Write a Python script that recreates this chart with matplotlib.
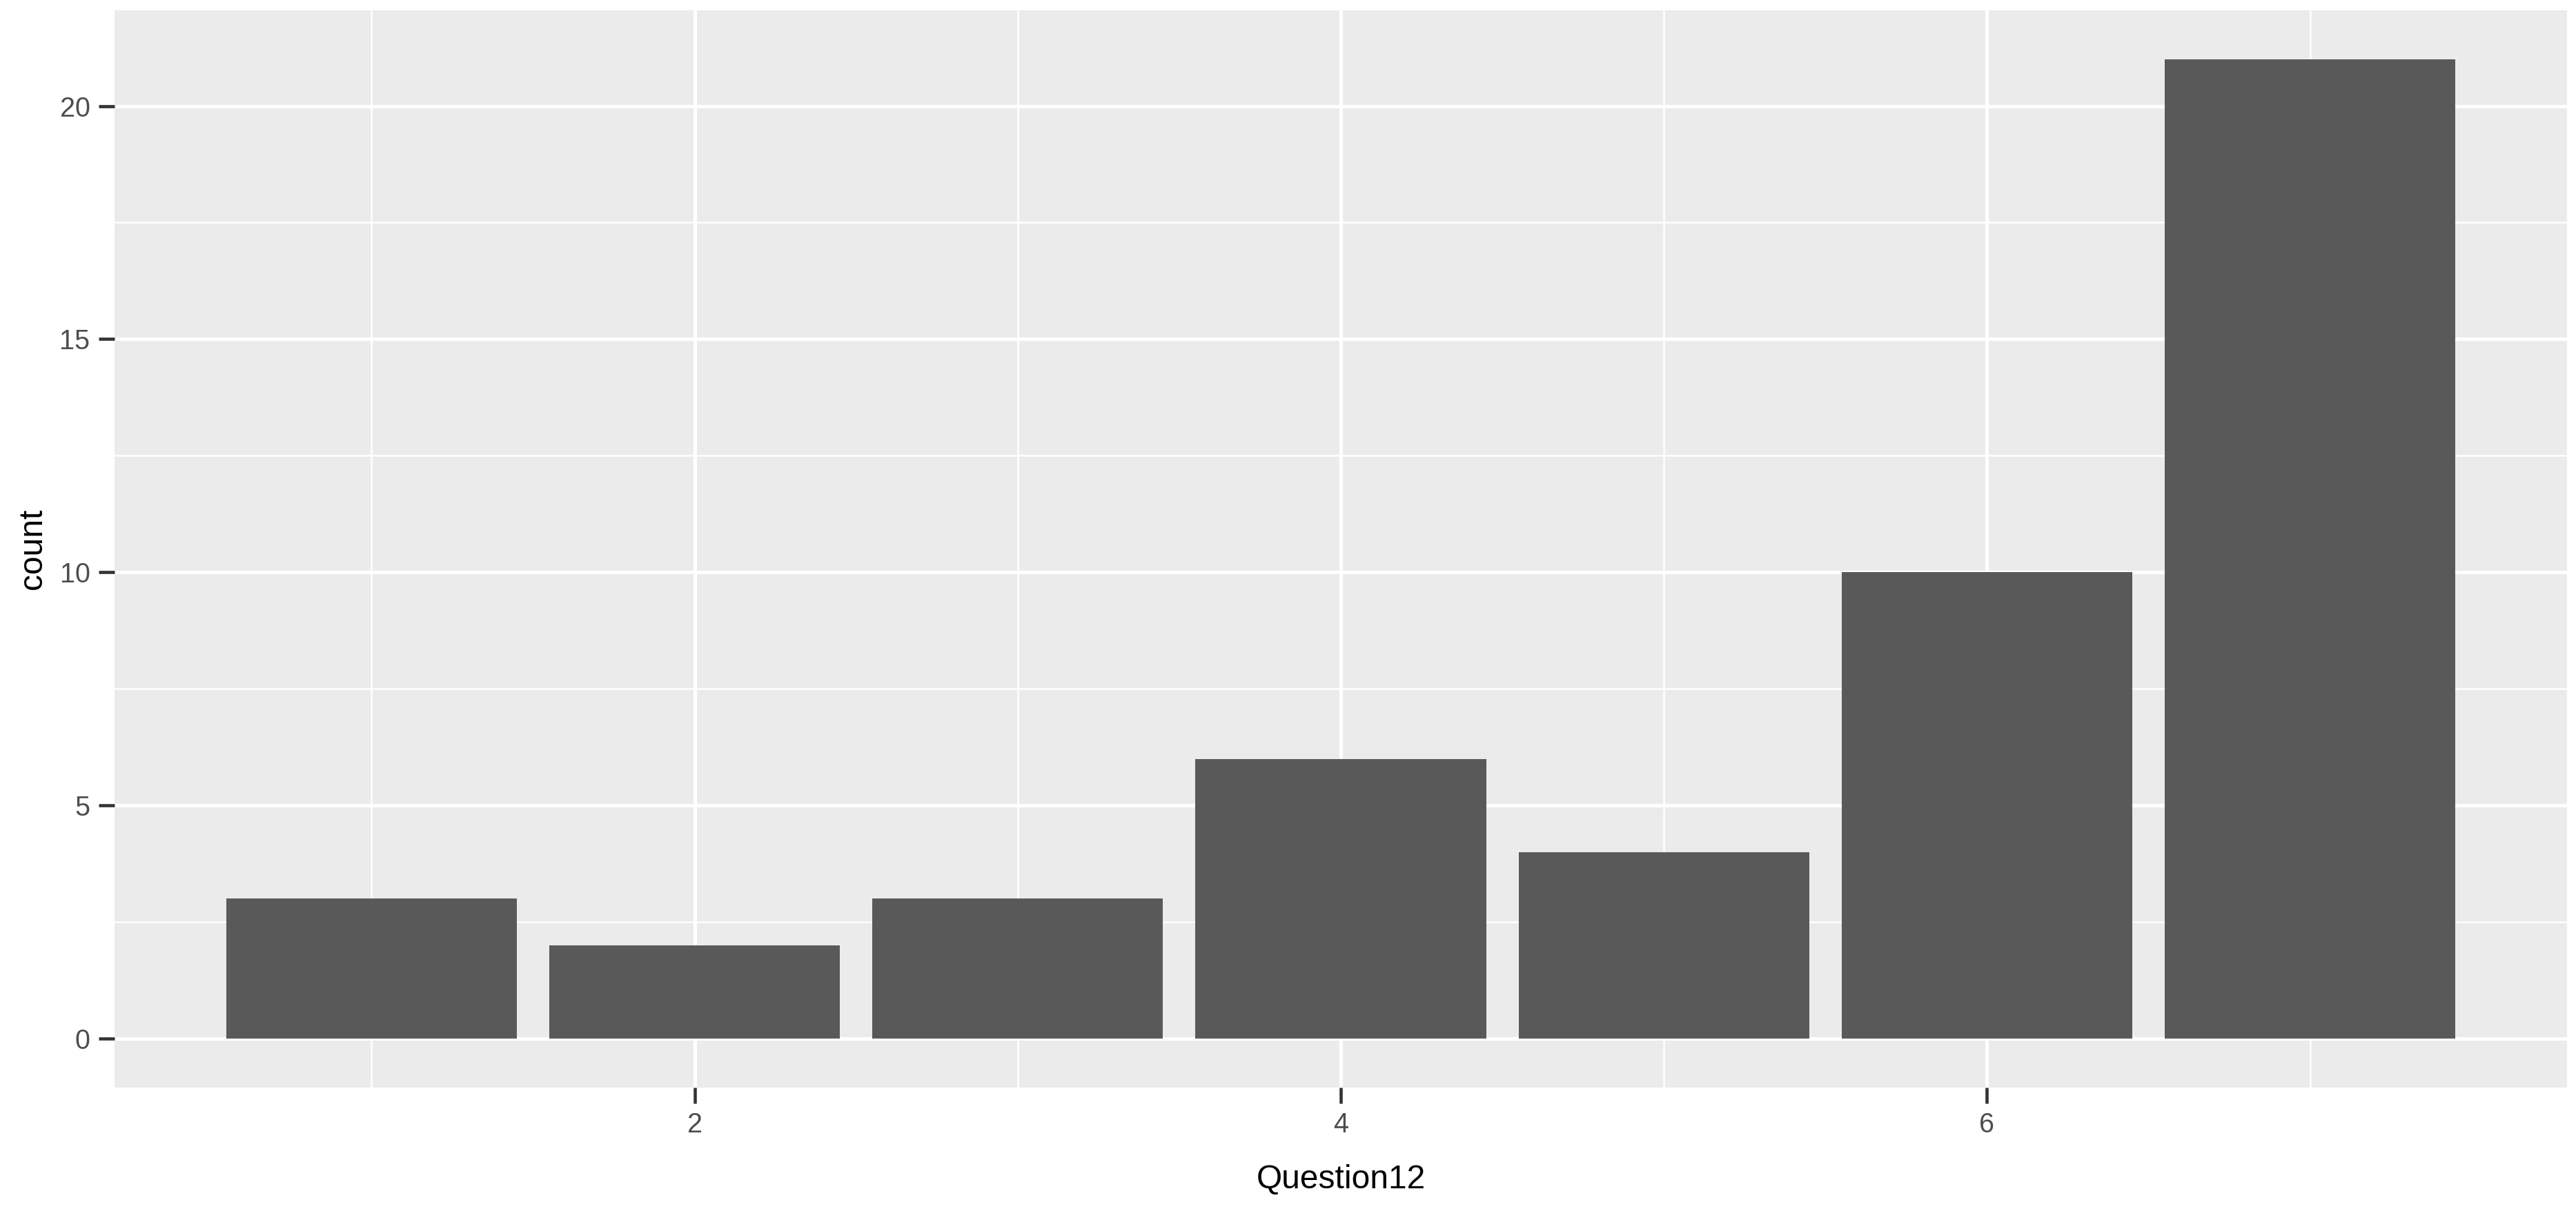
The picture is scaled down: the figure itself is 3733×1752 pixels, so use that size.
import matplotlib
matplotlib.use("Agg")
import matplotlib.pyplot as plt
from matplotlib.ticker import MultipleLocator

plt.rcParams['font.family'] = ['Liberation Sans', 'DejaVu Sans']

# Data
question12 = [1, 2, 3, 4, 5, 6, 7]
counts = [3, 2, 3, 6, 4, 10, 21]
x_ticks = [2, 4, 6]
y_ticks = [0, 5, 10, 15, 20]

W, H = 3733, 1752
dpi = 300
fig = plt.figure(figsize=(W / dpi, H / dpi), dpi=dpi)
fig.patch.set_facecolor('white')

L, R, T, B = 166, 3720, 15, 1576
ax = fig.add_axes([L / W, (H - B) / H, (R - L) / W, (B - T) / H])
ax.set_facecolor('#EBEBEB')

ax.bar(question12, counts, width=0.9, color='#595959', zorder=3)

ax.set_xlim(0.205, 7.795)
ax.set_ylim(-1.05, 22.05)

ax.set_xticks(x_ticks)
ax.set_yticks(y_ticks)
ax.xaxis.set_minor_locator(MultipleLocator(1))
ax.yaxis.set_minor_locator(MultipleLocator(2.5))

ax.grid(which='major', color='white', linewidth=1.2, zorder=1)
ax.grid(which='minor', color='white', linewidth=0.6, zorder=1)
ax.set_axisbelow(True)

for s in ax.spines.values():
    s.set_visible(False)

ax.tick_params(which='major', length=5.5, width=1.1, color='#333333',
               labelcolor='#4D4D4D', labelsize=9.5, pad=3)
ax.tick_params(which='minor', length=0)

ax.set_xlabel('Question12', fontsize=11.5, color='black', labelpad=9)
ax.set_ylabel('count', fontsize=11.5, color='black', labelpad=4)

fig.savefig('out.png', dpi=dpi)
